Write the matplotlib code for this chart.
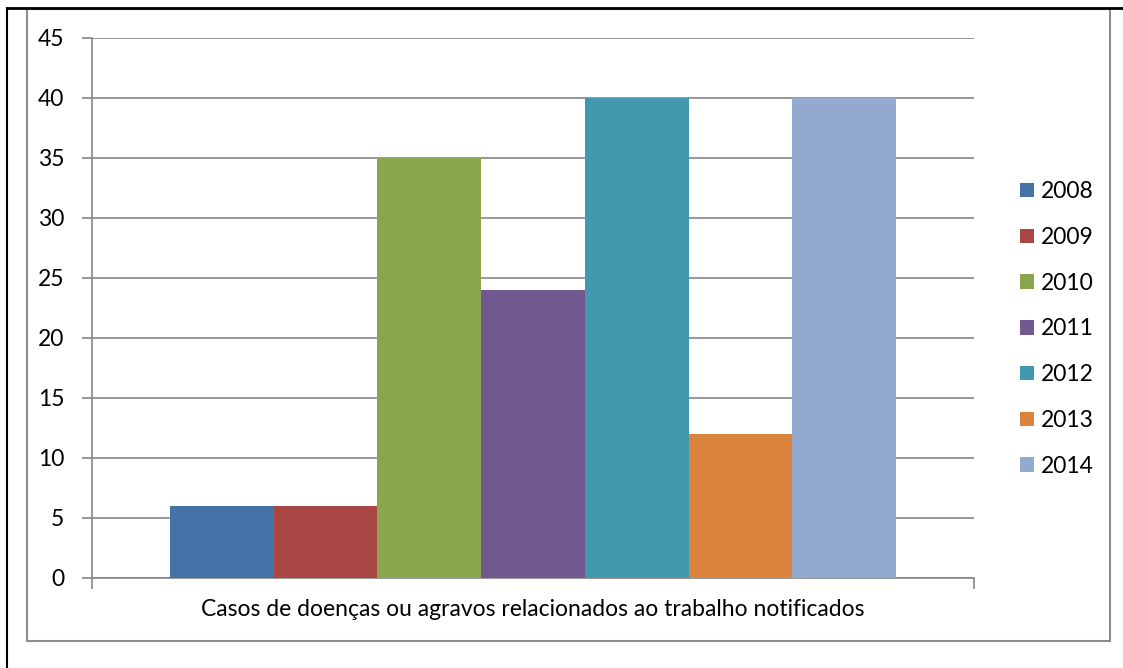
import matplotlib.pyplot as plt
from matplotlib.lines import Line2D
from matplotlib.patches import Rectangle

plt.rcParams['font.family'] = ['Lato', 'DejaVu Sans']

anos = ['2008', '2009', '2010', '2011', '2012', '2013', '2014']
casos = [6, 6, 35, 24, 40, 12, 40]
cores = ['#4572A7', '#AA4643', '#89A54E', '#71588F', '#4198AF', '#DB843D', '#93A9CF']
categoria = 'Casos de doenças ou agravos relacionados ao trabalho notificados'

W, H = 1123, 668
fig = plt.figure(figsize=(W / 100, H / 100), dpi=100)
ax = fig.add_axes([92 / W, 1 - 578 / H, (974 - 92) / W, (578 - 38) / H])

# gap width de 150% como no Excel
largura = 1 / (len(anos) + 1.5)
for i, (ano, v, c) in enumerate(zip(anos, casos, cores)):
    x = (i - (len(anos) - 1) / 2) * largura
    ax.bar(x, v, width=largura, color=c, label=ano, zorder=3)

cinza = '#868686'
ax.set_xlim(-0.5, 0.5)
ax.set_ylim(0, 45)
ax.set_yticks(range(0, 46, 5))
ax.yaxis.grid(True, color=cinza, linewidth=1.2, zorder=0)
ax.set_axisbelow(True)
for s in ['top', 'right']:
    ax.spines[s].set_visible(False)
for s in ['left', 'bottom']:
    ax.spines[s].set_color(cinza)
    ax.spines[s].set_linewidth(1.2)
ax.tick_params(axis='y', length=7, color=cinza, width=1.2, labelsize=16.5, pad=13)
ax.set_xticks([0])
ax.set_xticklabels([categoria])
ax.tick_params(axis='x', which='major', length=0, labelsize=16.5, pad=15)
ax.set_xticks([-0.5, 0.5], minor=True)
ax.tick_params(axis='x', which='minor', length=8, color=cinza, width=1.2)

leg = fig.legend(loc='upper left', bbox_to_anchor=(1011 / W, 1 - 172 / H),
                 frameon=False, fontsize=16.5, handlelength=0.6, handleheight=0.6,
                 handletextpad=0.3, labelspacing=1.08, borderaxespad=0)

# moldura do gráfico e linhas da tabela
fig.add_artist(Rectangle((27 / W, 1 - 641 / H), (1110 - 27) / W, (641 - 9) / H,
                         transform=fig.transFigure, fill=False, edgecolor='#8c8c8c', linewidth=1.5))
fig.add_artist(Line2D([7 / W, 1], [1 - 8 / H, 1 - 8 / H], transform=fig.transFigure,
                      color='black', linewidth=2))
fig.add_artist(Line2D([7 / W, 7 / W], [0, 1 - 8 / H], transform=fig.transFigure,
                      color='black', linewidth=1.5))

fig.savefig('out.png', dpi=100)
